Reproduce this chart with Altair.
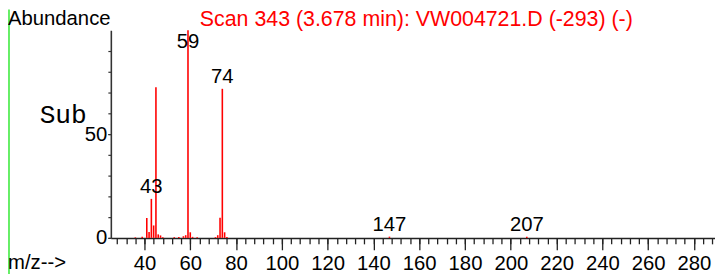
import altair as alt
import pandas as pd

# ---- data ----
mz = [36, 39, 41, 42, 43, 44, 45, 46, 47, 48, 53, 55, 57, 58, 59, 60, 61, 63,
      71, 72, 73, 74, 75, 76, 147, 207]
abundance = [0.3, 0.5, 9.6, 2.8, 18.8, 6.0, 72.6, 1.7, 1.2, 0.3, 0.4, 0.4, 0.8, 1.3, 100.0, 2.7, 0.5, 0.3,
             0.4, 1.3, 9.7, 71.8, 2.7, 0.4, 0.6, 0.6]
label_mz = [43, 59, 74, 147, 207]
label_text = ["43", "59", "74", "147", "207"]

title_text = "Scan 343 (3.678 min): VW004721.D (-293) (-)"
y_title = "Abundance"
x_title = "m/z-->"
side_text = "Sub"

x_minor = list(range(28, 289, 4))
x_major = list(range(40, 281, 20))
y_minor = list(range(0, 91, 10))
y_major = [0, 50]

FONT = "Liberation Sans"
FS = 20.5

peaks = pd.DataFrame({"mz": mz, "abund": abundance})
h = dict(zip(mz, abundance))
labels = pd.DataFrame({
    "mz": label_mz,
    "text": label_text,
    "ly": [min(h[m] + 2.8, 91.5) for m in label_mz],
})

xscale = alt.Scale(domain=[25.3, 289.2], nice=False, zero=False)
yscale = alt.Scale(domain=[0, 100], nice=False)

x_minor_axis = alt.Axis(
    orient="bottom", values=x_minor, labels=False, tickSize=6,
    tickColor="#222", tickWidth=1.3, domainColor="#222", domainWidth=1.5,
    grid=False, title=None,
)
x_major_axis = alt.Axis(
    orient="bottom", values=x_major, tickSize=12, domain=False,
    tickColor="#222", tickWidth=1.3,
    labelFont=FONT, labelFontSize=FS, labelColor="black",
    labelPadding=4, labelBaseline="top", labelFlush=False, labelOverlap=False,
    grid=False, title=None,
)
y_minor_axis = alt.Axis(
    orient="left", values=y_minor, labels=False, tickSize=3,
    tickColor="#333", tickWidth=1.2, domainColor="#333", domainWidth=1.6,
    grid=False, title=None,
)
y_major_axis = alt.Axis(
    orient="left", values=y_major, tickSize=3, domain=False,
    tickColor="#333", tickWidth=1.2,
    labelFont=FONT, labelFontSize=FS, labelColor="black",
    labelPadding=1, labelBaseline="middle", labelFlush=False, labelOverlap=False,
    grid=False, title=None,
)

bars = alt.Chart(peaks).mark_rule(color="#ff0000", strokeWidth=1.6).encode(
    x=alt.X("mz:Q", scale=xscale, axis=x_minor_axis),
    y=alt.Y("abund:Q", scale=yscale, axis=y_minor_axis),
    y2=alt.datum(0),
)

peak_labels = alt.Chart(labels).mark_text(
    font=FONT, fontSize=FS, color="black", align="center", baseline="alphabetic"
).encode(
    x=alt.X("mz:Q", scale=xscale, axis=x_major_axis),
    y=alt.Y("ly:Q", scale=yscale, axis=y_major_axis),
    text="text:N",
)

def note(txt, x, y, color="black", font=FONT, size=FS):
    return alt.Chart(pd.DataFrame({"t": [txt]})).mark_text(
        font=font, fontSize=size, color=color, align="left", baseline="alphabetic"
    ).encode(x=alt.value(x), y=alt.value(y), text="t:N")

title = note(title_text, 90, -4.5, color="#ff0000", size=21.6)
ytitle = note(y_title, -104, -5.5)
xtitle = note(x_title, -104, 241)
sub = note(side_text, -72, 94, font="Courier New, Liberation Mono, monospace", size=26.5)

frame = alt.Chart(pd.DataFrame({"a": [0]})).mark_rule(color="#66ee66", strokeWidth=2).encode(
    x=alt.value(-103), y=alt.value(-21), y2=alt.value(250)
)

chart = alt.layer(frame, bars, peak_labels, title, ytitle, xtitle, sub).resolve_axis(
    x="independent", y="independent"
).properties(
    width=611, height=210,
    padding={"left": 104, "top": 21, "right": 0, "bottom": 35},
    autosize=alt.AutoSizeParams(type="none"),
    background="white",
).configure_view(stroke=None)

chart.save("out.html", embed_options={"renderer": "svg", "actions": False})
